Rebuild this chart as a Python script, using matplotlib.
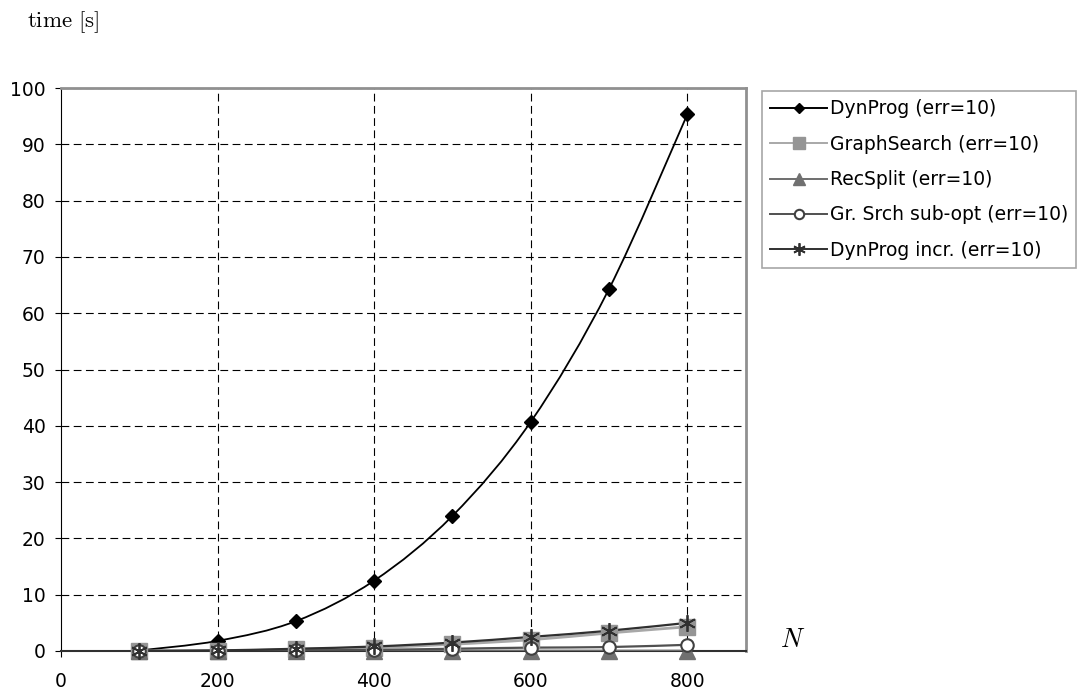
import numpy as np
import matplotlib
matplotlib.use("Agg")
import matplotlib.pyplot as plt
from matplotlib.path import Path
from matplotlib.patches import PathPatch
from matplotlib.lines import Line2D

plt.rcParams["font.family"] = ["DejaVu Sans"]
plt.rcParams["mathtext.fontset"] = "cm"

N = [100, 200, 300, 400, 500, 600, 700, 800]
dynprog = [0.1, 1.8, 5.3, 12.5, 24.0, 40.7, 64.3, 95.3]
graphsearch = [0.0, 0.0, 0.3, 0.6, 1.2, 2.0, 3.2, 4.3]
recsplit = [0.0, 0.0, 0.0, 0.0, 0.0, 0.0, 0.0, 0.0]
gr_subopt = [0.0, 0.0, 0.1, 0.2, 0.4, 0.6, 0.7, 1.1]
dynprog_incr = [0.0, 0.1, 0.4, 0.8, 1.5, 2.5, 3.6, 5.0]

labels = ["DynProg (err=10)", "GraphSearch (err=10)", "RecSplit (err=10)",
          "Gr. Srch sub-opt (err=10)", "DynProg incr. (err=10)"]


def smooth_path(x, y, t=1 / 6):
    # Catmull-Rom style bezier, like the spreadsheet "smoothed line"
    x = np.asarray(x, float)
    y = np.asarray(y, float)
    verts = [(x[0], y[0])]
    codes = [Path.MOVETO]
    n = len(x)
    for i in range(n - 1):
        i0 = max(i - 1, 0)
        i3 = min(i + 2, n - 1)
        c1 = (x[i] + (x[i + 1] - x[i0]) * t, y[i] + (y[i + 1] - y[i0]) * t)
        c2 = (x[i + 1] - (x[i3] - x[i]) * t, y[i + 1] - (y[i3] - y[i]) * t)
        verts += [c1, c2, (x[i + 1], y[i + 1])]
        codes += [Path.CURVE4] * 3
    return Path(verts, codes)


fig = plt.figure(figsize=(10.82, 6.92), dpi=100)
ax = fig.add_axes([61 / 1082, 41 / 692, 685 / 1082, 563 / 692])

styles = [
    dict(data=dynprog, color="black", lw=1.3, marker="D", ms=7, mfc="black", mec="black", mew=1.0),
    dict(data=graphsearch, color="#a8a8a8", lw=2.0, marker="s", ms=11, mfc="#959595", mec="#959595", mew=1.0),
    dict(data=recsplit, color="#6e6e6e", lw=2.0, marker="^", ms=11, mfc="#707070", mec="#707070", mew=1.0),
    dict(data=gr_subopt, color="#505050", lw=1.6, marker="o", ms=9, mfc="white", mec="#404040", mew=1.5),
    dict(data=dynprog_incr, color="#303030", lw=1.6, marker=(6, 2, 0), ms=12, mfc="#303030", mec="#303030", mew=1.3),
]

handles = []
for st, lab in zip(styles, labels):
    ax.add_patch(PathPatch(smooth_path(N, st["data"]), fill=False,
                           edgecolor=st["color"], lw=st["lw"], zorder=3))
    ax.plot(N, st["data"], ls="none", marker=st["marker"], ms=st["ms"],
            mfc=st["mfc"], mec=st["mec"], mew=st["mew"], zorder=4, clip_on=False)
    handles.append(Line2D([], [], color=st["color"], lw=1.4, marker=st["marker"],
                          ms=st["ms"] * 0.75, mfc=st["mfc"], mec=st["mec"], mew=st["mew"]))

ax.set_xlim(0, 875)
ax.set_ylim(0, 100)
ax.set_xticks([0, 200, 400, 600, 800])
ax.set_yticks(range(0, 101, 10))
ax.tick_params(labelsize=13.5, length=4, color="black")
ax.tick_params(axis="x", pad=11)
ax.tick_params(axis="y", pad=7)

for v in [200, 400, 600, 800]:
    ax.axvline(v, color="black", lw=0.8, ls=(0, (7, 4)), zorder=1)
for v in range(10, 101, 10):
    ax.axhline(v, color="black", lw=0.8, ls=(0, (7, 4)), zorder=1)

ax.spines["top"].set_color("#909090")
ax.spines["right"].set_color("#909090")
ax.spines["top"].set_linewidth(2)
ax.spines["right"].set_linewidth(2)
ax.spines["left"].set_color("black")
ax.spines["bottom"].set_color("#303030")
ax.spines["bottom"].set_linewidth(1.5)

fig.text(27 / 1082, 1 - 22 / 692, r"$\mathrm{time\ [s]}$", fontsize=16.5, va="center", ha="left")
fig.text(793 / 1082, 1 - 640 / 692, r"$N$", fontsize=19, va="center", ha="center")

leg = fig.legend(handles, labels, loc="upper left", bbox_to_anchor=(762 / 1082, 1 - 91 / 692),
                 fontsize=13.5, frameon=True, fancybox=False, handlelength=3.0,
                 handletextpad=0.15, borderpad=0.45, labelspacing=0.87, borderaxespad=0)
leg.get_frame().set_edgecolor("#909090")
leg.get_frame().set_linewidth(1.2)

fig.savefig("out.png", dpi=100)
